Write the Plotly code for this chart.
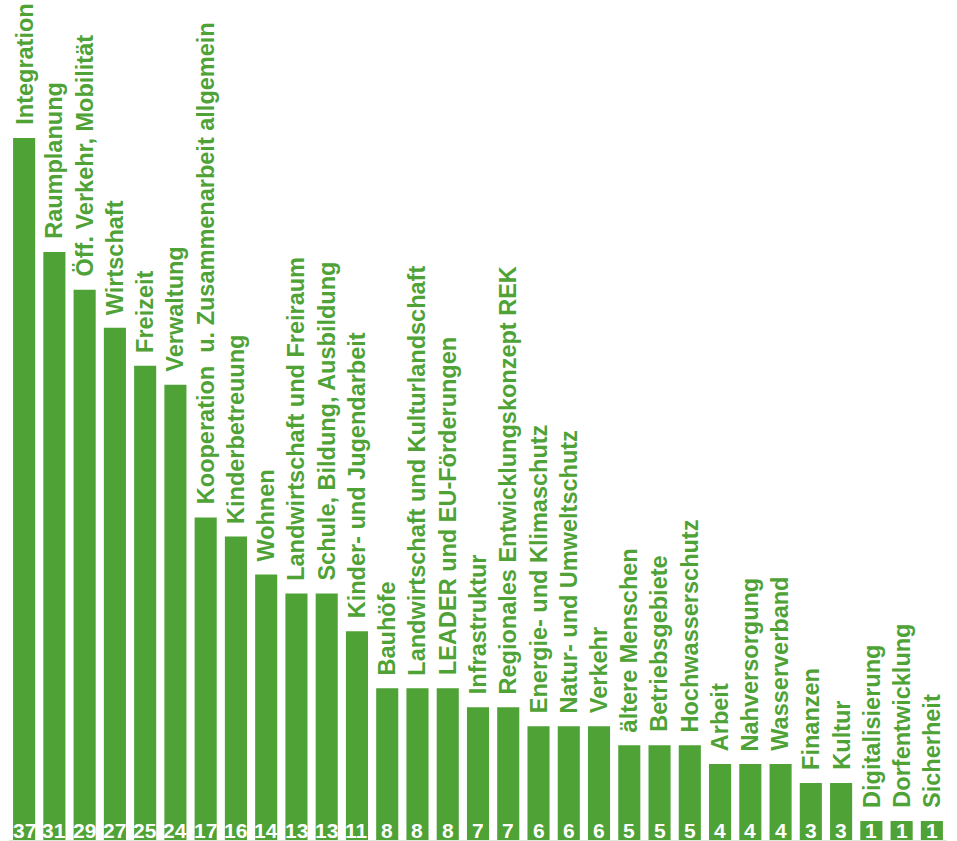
import plotly.graph_objects as go

categories = [
    "Integration", "Raumplanung", "Öff. Verkehr, Mobilität", "Wirtschaft", "Freizeit",
    "Verwaltung", "Kooperation\u00a0 u. Zusammenarbeit allgemein", "Kinderbetreuung", "Wohnen",
    "Landwirtschaft und Freiraum", "Schule, Bildung, Ausbildung", "Kinder- und Jugendarbeit",
    "Bauhöfe", "Landwirtschaft und Kulturlandschaft", "LEADER und EU-Förderungen",
    "Infrastruktur", "Regionales Entwicklungskonzept REK", "Energie- und Klimaschutz",
    "Natur- und Umweltschutz", "Verkehr", "ältere Menschen", "Betriebsgebiete",
    "Hochwasserschutz", "Arbeit", "Nahversorgung", "Wasserverband", "Finanzen", "Kultur",
    "Digitalisierung", "Dorfentwicklung", "Sicherheit",
]
values = [37, 31, 29, 27, 25, 24, 17, 16, 14, 13, 13, 11, 8, 8, 8, 7, 7, 6, 6, 6,
          5, 5, 5, 4, 4, 4, 3, 3, 1, 1, 1]

GREEN = "#4ea236"
FONT = "Liberation Sans, Arial, sans-serif"

x = list(range(len(categories)))

fig = go.Figure()
fig.add_trace(go.Bar(
    x=x, y=values, marker=dict(color=GREEN, line=dict(width=0)),
    hoverinfo="skip", showlegend=False,
))

annotations = []
for xi, cat, v in zip(x, categories, values):
    annotations.append(dict(
        x=xi, y=v, xref="x", yref="y", text="<b>%s</b>" % cat, textangle=-90,
        showarrow=False, xanchor="center", yanchor="bottom", yshift=11,
        font=dict(family=FONT, size=23.5, color=GREEN),
    ))
    annotations.append(dict(
        x=xi, y=0, xref="x", yref="y", text="<b>%d</b>" % v,
        showarrow=False, xanchor="center", yanchor="bottom", yshift=-4,
        font=dict(family=FONT, size=21, color="white"),
    ))

fig.update_layout(
    width=957, height=841,
    margin=dict(l=9, r=10, t=0, b=1),
    paper_bgcolor="white", plot_bgcolor="white",
    bargap=0.27,
    xaxis=dict(range=[-0.5, len(categories) - 0.5], showticklabels=False, showgrid=False,
               zeroline=False, showline=True, linecolor="#dcebd8", linewidth=1, ticks=""),
    yaxis=dict(range=[0, 840 / 18.97], showticklabels=False, showgrid=False,
               zeroline=False, showline=False, ticks=""),
    annotations=annotations,
)

fig.write_html("out.html")
